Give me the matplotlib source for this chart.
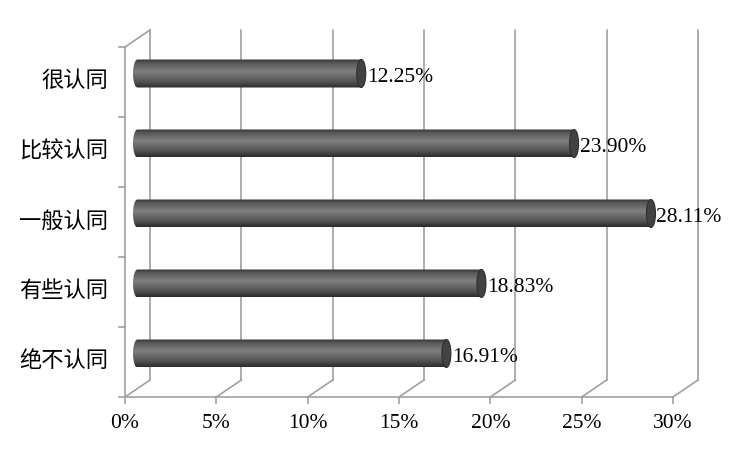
import numpy as np
import matplotlib.pyplot as plt
from matplotlib.patches import Ellipse, Polygon

plt.rcParams['font.family'] = ['Liberation Serif', 'Noto Sans CJK SC']

# datos
categorias = ['绝不认同', '有些认同', '一般认同', '比较认同', '很认同']
valores = [16.91, 18.83, 28.11, 23.90, 12.25]
ticks_x = [0, 5, 10, 15, 20, 25, 30]
etiquetas_x = ['0%', '5%', '10%', '15%', '20%', '25%', '30%']

# geometria del "3D" (unidades: % en x, categoria en y)
px_x = 548 / 30.0          # pixeles por 1 %
px_y = 70.0                # pixeles por categoria
dx = 25 / px_x             # profundidad en x
dy = 17 / px_y             # profundidad en y
rw = 4.5 / px_x            # semi-ancho de la tapa del cilindro
alto = 28 / px_y           # alto del cilindro
gris = '#a0a0a0'

fig = plt.figure(figsize=(7.5, 4.5), dpi=100)
ax = fig.add_axes([0, 0, 1, 1])
xlim = (-125 / px_x, 625 / px_x)
ylim = (-53 / px_y, 397 / px_y)
n = len(categorias)
xmax = ticks_x[-1]

# pared del fondo y piso
for t in ticks_x:
    ax.plot([t + dx, t + dx], [dy, n + dy], color=gris, lw=1.2, zorder=1)
    ax.plot([t, t + dx], [0, dy], color=gris, lw=1.2, zorder=1)
    ax.plot([t, t], [0, -6 / px_y], color=gris, lw=1.2, zorder=1)
ax.plot([0, xmax], [0, 0], color=gris, lw=1.2, zorder=1)
# pared izquierda
ax.plot([0, 0], [0, n], color=gris, lw=1.2, zorder=1)
ax.plot([0, dx], [n, n + dy], color=gris, lw=1.2, zorder=1)
for k in range(n + 1):
    ax.plot([0, -6 / px_x], [k, k], color=gris, lw=1.2, zorder=1)

# gradiente vertical del cilindro
perfil = np.interp(np.linspace(0, 1, 64), [0, 0.12, 0.42, 0.8, 1.0],
                   [0.20, 0.34, 0.50, 0.32, 0.17])
grad = perfil[:, None] * np.ones((1, 2))

for i, (cat, v) in enumerate(zip(categorias, valores)):
    yc = i + 0.5 + dy / 2
    xl = dx / 2
    xr = v + dx / 2
    th = np.linspace(np.pi / 2, 3 * np.pi / 2, 40)
    izq = np.column_stack([xl + rw * np.cos(th), yc + alto / 2 * np.sin(th)])
    pts = np.vstack([izq, [[xr, yc - alto / 2], [xr, yc + alto / 2]]])
    forma = Polygon(pts, closed=True, facecolor='none', edgecolor='none')
    ax.add_patch(forma)
    im = ax.imshow(grad, cmap='gray', vmin=0, vmax=1, aspect='auto',
                   extent=(xl - rw, xr, yc - alto / 2, yc + alto / 2),
                   zorder=2, interpolation='bilinear')
    im.set_clip_path(forma)
    tapa = Ellipse((xr, yc), 2 * rw, alto, facecolor='#424242',
                   edgecolor='#2e2e2e', lw=0.8, zorder=3)
    ax.add_patch(tapa)
    ax.text(xr + rw + 1 / px_x, yc - 4 / px_y, f'{v:.2f}%', fontsize=15.5,
            va='center', ha='left', zorder=4)
    ax.text(-17 / px_x, i + 0.5, cat, fontsize=16, va='center', ha='right')

for t, lab in zip(ticks_x, etiquetas_x):
    ax.text(t, -26 / px_y, lab, fontsize=15.5, ha='center', va='center')

ax.set_xlim(*xlim)
ax.set_ylim(*ylim)
ax.axis('off')

plt.savefig('out.png', dpi=100)
